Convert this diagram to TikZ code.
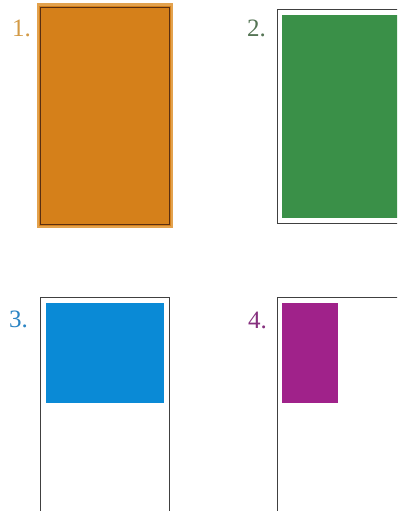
\documentclass[tikz,border=0pt]{standalone}
\usepackage{fontspec}
\setmainfont{Liberation Serif}
\usepackage{xcolor}
\usepackage{tikz}
\definecolor{cardorange}{HTML}{D5801A}
\definecolor{cardorangelt}{HTML}{E3A24E}
\definecolor{cardbrown}{HTML}{5A2E10}
\definecolor{cardgreen}{HTML}{3A9048}
\definecolor{cardblue}{HTML}{0A8AD6}
\definecolor{cardpurple}{HTML}{A0228A}
\definecolor{labelone}{HTML}{D39A45}
\definecolor{labeltwo}{HTML}{557555}
\definecolor{labelthree}{HTML}{2A84C4}
\definecolor{labelfour}{HTML}{86307E}

\begin{document}
\begin{tikzpicture}[
    x=1pt, y=-1pt,
    numlabel/.style={anchor=base west, inner sep=0pt, font=\fontsize{25}{28}\selectfont},
    frame/.style={draw=black!75, line width=1.7pt},
    block/.style={draw=none}
]
\clip (0,0) rectangle (397,511);
\fill[white] (0,0) rectangle (397,511);

% Panel 1
\fill[cardorangelt] (37,3) rectangle (173,228);
\fill[cardorange] (39,6) rectangle (171,226);
\draw[cardbrown, line width=1.5pt] (40.5,7.5) rectangle (169.5,224.5);
\node (one) [numlabel, text=labelone] at (12,37) {1.};

% Panel 2
\draw[frame] (277.5,9.5) rectangle (410,223.5);
\fill[cardgreen, block] (282,15) rectangle (400,218);
\node (two) [numlabel, text=labeltwo] at (247,37) {2.};

% Panel 3
\draw[frame] (40.5,297.5) rectangle (169.5,520);
\fill[cardblue, block] (46,303) rectangle (164,403);
\node (three) [numlabel, text=labelthree] at (9,327) {3.};

% Panel 4
\draw[frame] (277.5,297.5) rectangle (410,520);
\fill[cardpurple, block] (282,303) rectangle (338,403);
\node (four) [numlabel, text=labelfour] at (248,328) {4.};

\end{tikzpicture}
\end{document}
